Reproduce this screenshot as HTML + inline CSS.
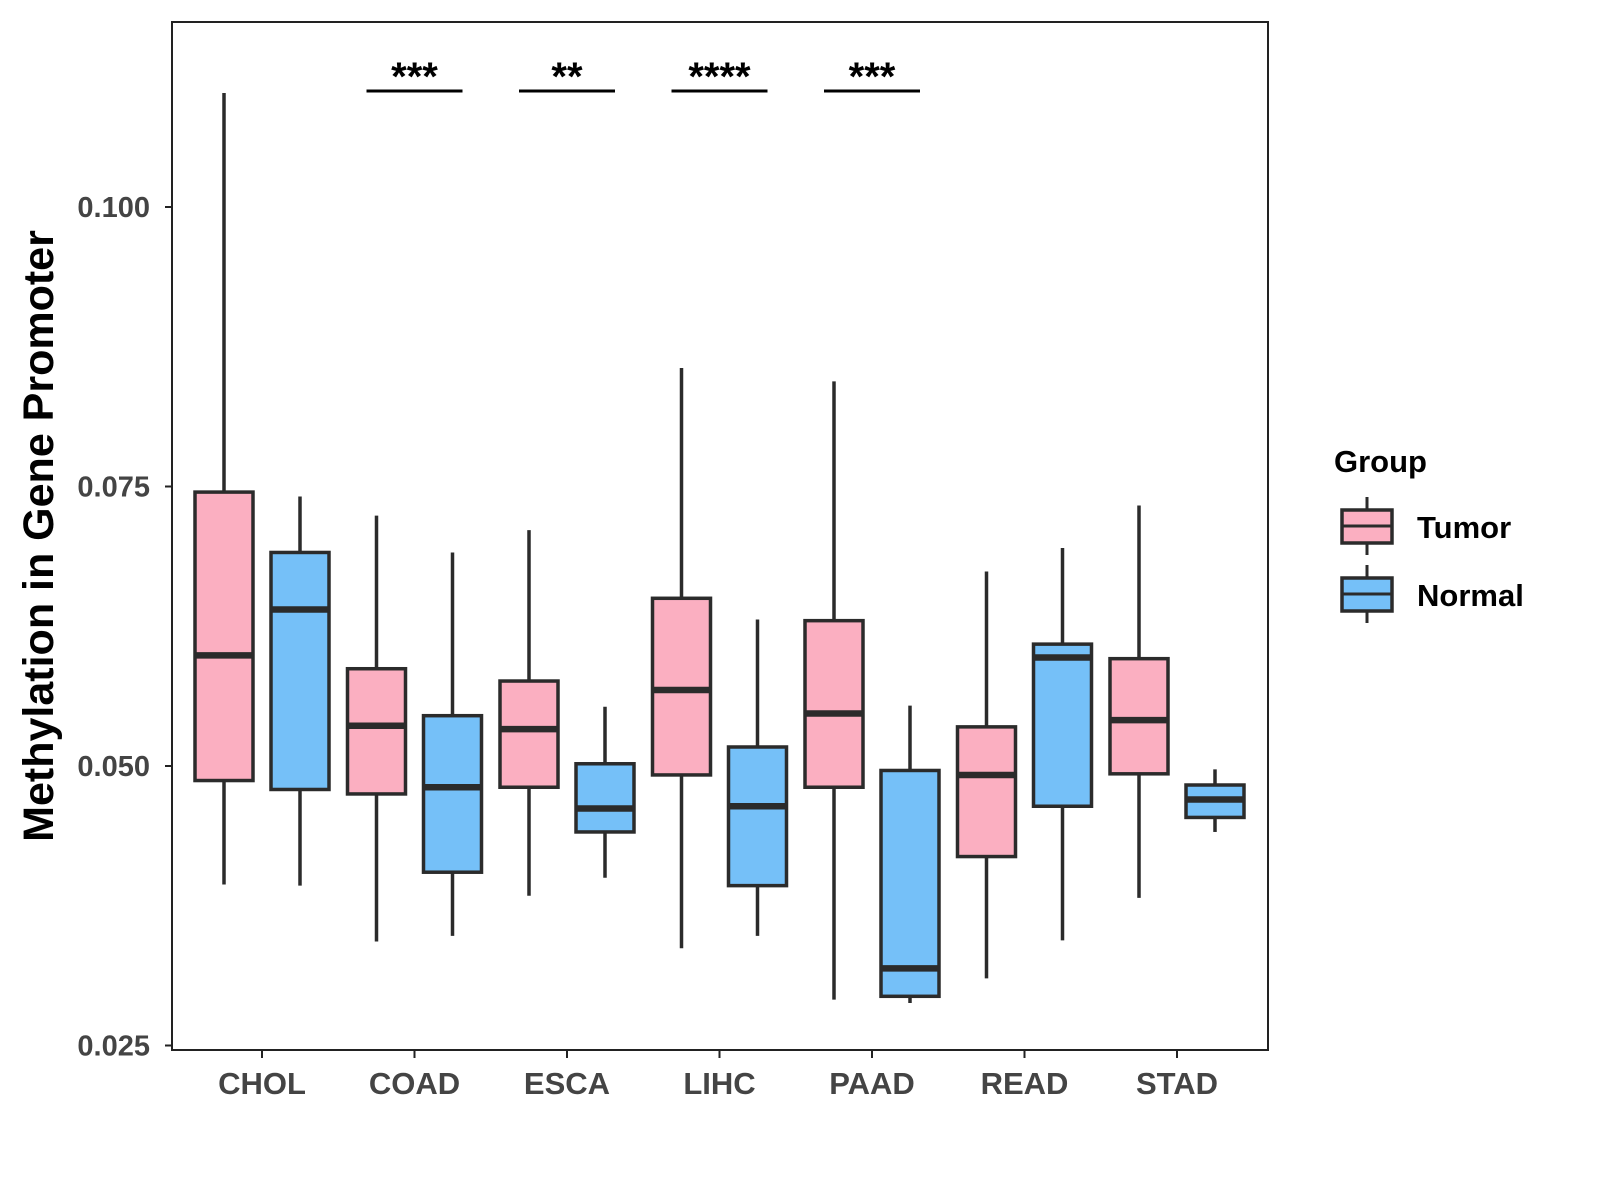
<!DOCTYPE html>
<html><head><meta charset="utf-8"><style>
html,body{margin:0;padding:0;background:#fff;}
svg{display:block;font-family:"Liberation Sans",Arial,sans-serif;font-weight:bold;}
</style></head><body>
<svg id="chart" width="1600" height="1200" viewBox="0 0 1600 1200">
<rect x="172" y="22" width="1096" height="1028" fill="#fff" stroke="#222" stroke-width="2"/>
<g id="marks"></g>
<text transform="translate(53,536) rotate(-90)" text-anchor="middle" font-size="43" fill="#000">Methylation in Gene Promoter</text>
<g>
<text x="1334" y="472" font-size="31" fill="#000">Group</text>
<g>
<line x1="1367" y1="497" x2="1367" y2="555" stroke="#2b2b2b" stroke-width="3"/>
<rect x="1342" y="510" width="50" height="33" fill="#fbafc1" stroke="#2b2b2b" stroke-width="3.5"/>
<line x1="1342" y1="526" x2="1392" y2="526" stroke="#2b2b2b" stroke-width="3"/>
<text x="1417" y="538" font-size="31" fill="#000">Tumor</text></g>
<g>
<line x1="1367" y1="565" x2="1367" y2="623" stroke="#2b2b2b" stroke-width="3"/>
<rect x="1342" y="578" width="50" height="33" fill="#75c0f8" stroke="#2b2b2b" stroke-width="3.5"/>
<line x1="1342" y1="594" x2="1392" y2="594" stroke="#2b2b2b" stroke-width="3"/>
<text x="1417" y="606" font-size="31" fill="#000">Normal</text></g>
</g>
</svg>
<script>
const categories=["CHOL","COAD","ESCA","LIHC","PAAD","READ","STAD"];
const tumorLow=[0.0394,0.0343,0.0384,0.0337,0.0291,0.0310,0.0382];
const tumorQ1=[0.0487,0.0475,0.0481,0.0492,0.0481,0.0419,0.0493];
const tumorMed=[0.0599,0.0536,0.0533,0.0568,0.0547,0.0492,0.0541];
const tumorQ3=[0.0745,0.0587,0.0576,0.0650,0.0630,0.0535,0.0596];
const tumorHigh=[0.1102,0.0724,0.0711,0.0856,0.0844,0.0674,0.0733];
const normalLow=[0.0393,0.0348,0.0400,0.0348,0.0288,0.0344,0.0441];
const normalQ1=[0.0479,0.0405,0.0441,0.0393,0.0294,0.0464,0.0454];
const normalMed=[0.0640,0.0481,0.0462,0.0464,0.0319,0.0597,0.0470];
const normalQ3=[0.0691,0.0545,0.0502,0.0517,0.0496,0.0609,0.0483];
const normalHigh=[0.0741,0.0691,0.0553,0.0631,0.0554,0.0695,0.0497];
const yTicks=[0.025,0.050,0.075,0.100];
const yTickLabels=["0.025","0.050","0.075","0.100"];
const sigCategories=["COAD","ESCA","LIHC","PAAD"];
const sigLabels=["***","**","****","***"];

const NS="http://www.w3.org/2000/svg";
const g=document.getElementById("marks");
function y(v){return 207+(0.1-v)/0.025*279.5;}
function x(i){return 262+i*152.5;}
function el(tag,attrs,parent){const e=document.createElementNS(NS,tag);for(const k in attrs)e.setAttribute(k,attrs[k]);(parent||g).appendChild(e);return e;}

yTicks.forEach((t,i)=>{
  const tk=el("line",{x1:165,x2:172,y1:y(t),y2:y(t),stroke:"#222","stroke-width":2});
  
  
  const tx=el("text",{x:150,y:y(t)+10,"text-anchor":"end","font-size":29,fill:"#444"});
  tx.textContent=yTickLabels[i];
  
  
});
categories.forEach((c,i)=>{
  const tk=el("line",{x1:x(i),x2:x(i),y1:1050,y2:1058,stroke:"#222","stroke-width":2});
  
  
  const tx=el("text",{x:x(i),y:1094,"text-anchor":"middle","font-size":31,fill:"#444"});
  tx.textContent=c;
  
  
});
function box(cx,lo,q1,md,q3,hi,fill,name){
  const gg=el("g",{});
  
  
  el("line",{x1:cx,x2:cx,y1:y(hi),y2:y(lo),stroke:"#2b2b2b","stroke-width":3.5},gg);
  el("rect",{x:cx-29,y:y(q3),width:58,height:y(q1)-y(q3),fill:fill,stroke:"#2b2b2b","stroke-width":3.5},gg);
  el("line",{x1:cx-29,x2:cx+29,y1:y(md),y2:y(md),stroke:"#2b2b2b","stroke-width":6.5},gg);
}
categories.forEach((c,i)=>{
  box(x(i)-38,tumorLow[i],tumorQ1[i],tumorMed[i],tumorQ3[i],tumorHigh[i],"#fbafc1","box-tumor-"+c.toLowerCase());
  box(x(i)+38,normalLow[i],normalQ1[i],normalMed[i],normalQ3[i],normalHigh[i],"#75c0f8","box-normal-"+c.toLowerCase());
});
sigCategories.forEach((c,k)=>{
  const i=categories.indexOf(c);
  const ln=el("line",{x1:x(i)-48,x2:x(i)+48,y1:91,y2:91,stroke:"#000","stroke-width":3});
  
  
  const tx=el("text",{x:x(i),y:90,"text-anchor":"middle","font-size":40,fill:"#000"});
  tx.textContent=sigLabels[k];
  
  
});
</script>
</body></html>
